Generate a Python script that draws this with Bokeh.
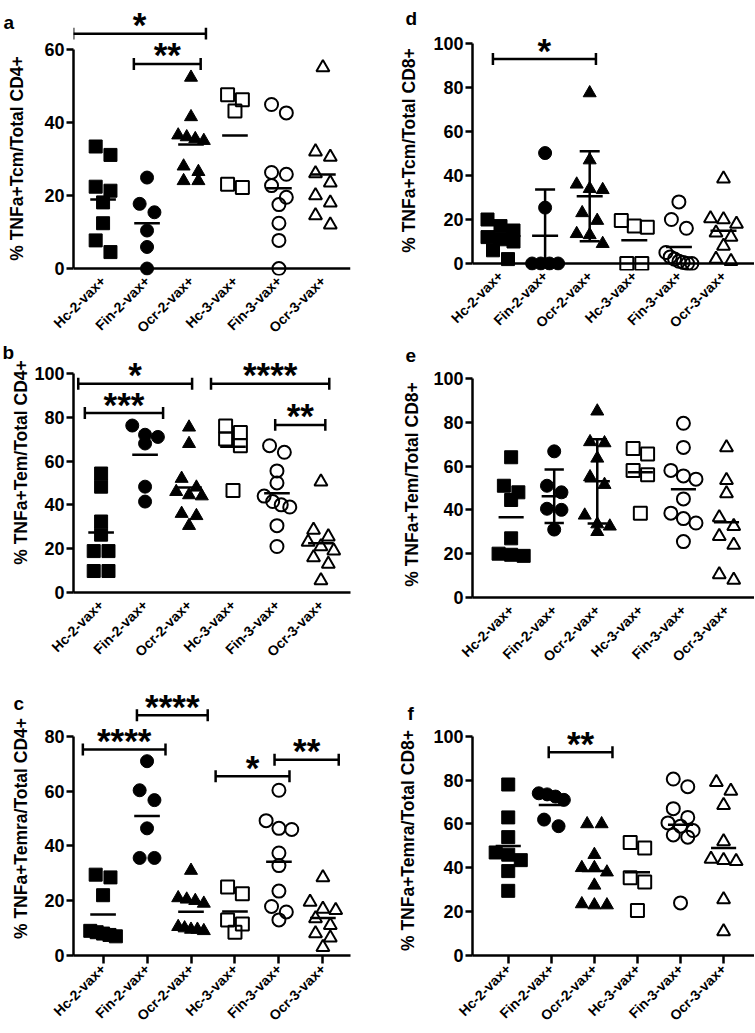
import math
import numpy as np
from bokeh.plotting import figure
from bokeh.layouts import column, row
from bokeh.models import FixedTicker, Range1d
from bokeh.core.properties import value
from bokeh.embed import file_html
from bokeh.resources import INLINE

# ---------------- data ----------------
groups = ["Hc-2-vax+", "Fin-2-vax+", "Ocr-2-vax+", "Hc-3-vax+", "Fin-3-vax+", "Ocr-3-vax+"]

# a: % TNFa+Tcm/Total CD4+
a_hc2 = [33.4, 31.1, 22.4, 21.3, 18.1, 12.4, 7.7, 4.5]
a_fin2 = [24.9, 17.7, 15.4, 10.4, 5.9, 0.0]
a_ocr2 = [52.3, 41.5, 36.5, 36.0, 35.5, 35.0, 28.0, 26.5, 24.0, 24.0]
a_hc3 = [47.6, 46.2, 43.1, 23.1, 22.2]
a_fin3 = [44.9, 42.6, 26.3, 25.8, 22.7, 19.5, 17.5, 12.4, 7.7, 0.0]
a_ocr3 = [55.0, 32.0, 30.5, 26.0, 23.5, 20.0, 18.0, 14.5, 12.0]

# b: % TNFa+Tem/Total CD4+
b_hc2 = [54.3, 48.3, 32.4, 26.4, 18.9, 18.9, 9.8, 9.8]
b_fin2 = [76.2, 72.0, 71.0, 68.0, 48.3, 41.5]
b_ocr2 = [75.4, 67.9, 52.0, 48.0, 46.0, 44.5, 44.0, 36.0, 35.0, 30.5]
b_hc3 = [76.0, 73.0, 70.0, 67.0, 46.5]
b_fin3 = [67.0, 64.0, 55.5, 50.0, 44.0, 41.5, 40.0, 39.0, 30.5, 21.0]
b_ocr3 = [50.5, 28.5, 25.5, 23.0, 21.0, 19.0, 16.0, 13.0, 5.5]

# c: % TNFa+Temra/Total CD4+
c_hc2 = [29.5, 28.5, 22.0, 9.0, 8.5, 8.0, 7.5, 7.0]
c_fin2 = [70.9, 60.3, 56.7, 46.4, 35.6, 35.6]
c_ocr2 = [31.0, 21.0, 20.5, 20.0, 19.0, 10.5, 10.0, 9.5, 9.5, 9.0]
c_hc3 = [25.0, 22.5, 13.0, 11.5, 8.5]
c_fin3 = [60.3, 49.2, 46.4, 46.0, 37.4, 32.8, 23.5, 17.9, 15.9, 13.0]
c_ocr3 = [28.5, 19.5, 17.0, 16.5, 13.5, 11.0, 8.0, 6.5, 3.0]

# d: % TNFa+Tcm/Total CD8+
d_hc2 = [20.0, 17.0, 15.0, 12.0, 11.0, 10.0, 6.0, 2.0]
d_fin2 = [50.2, 25.4, 0.0, 0.0, 0.0, 0.0]
d_ocr2 = [77.5, 47.0, 36.0, 34.0, 33.5, 23.0, 19.5, 13.5, 13.0, 9.0]
d_hc3 = [19.5, 17.0, 16.5, 0.0, 0.0]
d_fin3 = [28.0, 20.0, 16.0, 5.0, 3.0, 2.0, 1.0, 0.5, 0.0, 0.0]
d_ocr3 = [38.5, 20.5, 20.0, 18.0, 14.0, 12.0, 8.0, 2.0, 1.0]

# e: % TNFa+Tem/Total CD8+
e_hc2 = [64.0, 51.0, 48.0, 44.5, 27.0, 20.0, 19.5, 19.0]
e_fin2 = [66.7, 51.0, 48.0, 40.5, 40.0, 31.0]
e_ocr2 = [85.0, 71.0, 70.5, 63.5, 55.0, 51.5, 37.5, 33.5, 32.5, 30.0]
e_hc3 = [68.0, 65.5, 58.0, 56.0, 38.5]
e_fin3 = [79.5, 68.5, 58.0, 55.5, 54.0, 45.0, 38.5, 36.0, 34.0, 25.5]
e_ocr3 = [68.5, 53.5, 47.5, 36.5, 32.5, 28.0, 24.0, 10.5, 8.0]

# f: % TNFa+Temra/Total CD8+
f_hc2 = [78.0, 63.0, 54.0, 47.0, 46.0, 43.5, 38.5, 29.5]
f_fin2 = [74.0, 73.5, 72.5, 71.0, 62.0, 59.0]
f_ocr2 = [60.0, 60.0, 46.0, 40.0, 40.0, 38.0, 32.0, 23.5, 23.0, 23.0]
f_hc3 = [51.5, 49.0, 35.5, 33.5, 20.5]
f_fin3 = [80.5, 77.0, 67.0, 63.0, 60.5, 59.0, 57.0, 55.0, 54.0, 24.0]
f_ocr3 = [79.0, 75.0, 68.5, 52.0, 44.0, 43.5, 43.0, 25.5, 11.0]

# significance brackets: (from group position, to group position, height, stars)
sig_a = [(-0.68, 2.34, 64.3, "*"), (0.70, 2.22, 56.0, "**")]
sig_b = [(-0.52, 2.07, 95.3, "*"), (-0.37, 1.41, 81.9, "***"),
         (2.50, 5.19, 95.3, "****"), (3.96, 5.10, 76.5, "**")]
sig_c = [(-0.46, 1.42, 75.2, "****"), (0.77, 2.38, 87.7, "****"),
         (2.56, 4.24, 65.4, "*"), (3.90, 5.36, 71.4, "**")]
sig_d = [(-0.17, 2.14, 92.9, "*")]
sig_e = []
sig_f = [(0.94, 2.42, 92.7, "**")]

ylabels = {"a": "% TNFa+Tcm/Total CD4+", "b": "% TNFa+Tem/Total CD4+", "c": "% TNFa+Temra/Total CD4+",
           "d": "% TNFa+Tcm/Total CD8+", "e": "% TNFa+Tem/Total CD8+", "f": "% TNFa+Temra/Total CD8+"}

# ---------------- styling ----------------
FONT = "Liberation Sans"
SP = 44.6          # px between categories
MARKERS = [("square", True), ("circle", True), ("triangle", True),
           ("square", False), ("circle", False), ("triangle", False)]


def swarm(vals, ppu, row_px=12.0, step=15.0, max_span=26.0):
    order = sorted(range(len(vals)), key=lambda i: -vals[i])
    offs = [0.0] * len(vals)
    rows, cur = [], []
    for i in order:
        if cur and (vals[cur[0]] - vals[i]) * ppu >= row_px:
            rows.append(cur)
            cur = []
        cur.append(i)
    if cur:
        rows.append(cur)
    for r in rows:
        n = len(r)
        s = step if n < 2 else min(step, max_span / (n - 1))
        for k, i in enumerate(r):
            offs[i] = (k - (n - 1) / 2.0) * s
    return offs


def panel(series, ytop, sig, errbar, xticks, g):
    ppu = 220.0 / ytop
    frame_bottom = g["y0"] + g["ext"]
    x_start = (g["fl"] - g["cat0"]) / SP
    x_end = (g["fr"] - g["cat0"]) / SP
    y_end = (g["y0"] - g["ft"]) / ppu
    y_start = -(frame_bottom - g["y0"]) / ppu
    p = figure(width=g["W"], height=g["H"], x_range=(x_start, x_end), y_range=(y_start, y_end),
               output_backend="svg", toolbar_location=None,
               min_border_left=g["fl"] - g["figl"], min_border_right=g["figl"] + g["W"] - g["fr"],
               min_border_top=g["ft"] - g["figt"], min_border_bottom=g["figt"] + g["H"] - frame_bottom)
    p.outline_line_color = None
    p.grid.visible = False
    p.background_fill_color = "white"
    p.border_fill_color = "white"

    ya = p.yaxis[0]
    ya.ticker = FixedTicker(ticks=list(range(0, ytop + 1, 20)))
    ya.bounds = (0, ytop)
    ya.major_label_text_font = FONT
    ya.major_label_text_font_size = "18px"
    ya.major_label_text_font_style = "bold"
    ya.major_label_text_color = "black"
    ya.major_label_standoff = 2
    ya.major_tick_out = 7
    ya.major_tick_in = 0
    ya.minor_tick_line_color = None
    ya.axis_line_width = 2.5
    ya.major_tick_line_width = 2.5

    xa = p.xaxis[0]
    xa.ticker = FixedTicker(ticks=list(range(len(groups))))
    xa.major_label_overrides = {i: t for i, t in enumerate(groups)}
    xa.major_label_orientation = math.pi / 4
    xa.major_label_text_font = FONT
    xa.major_label_text_font_size = "14px"
    xa.major_label_text_font_style = "bold"
    xa.major_label_text_color = "black"
    xa.major_label_standoff = g["xs"]
    xa.minor_tick_line_color = None
    xa.axis_line_width = 2.5
    xa.major_tick_line_width = 2.5
    xa.major_tick_in = 0
    if xticks:
        xa.major_tick_out = 8
    else:
        xa.major_tick_out = 0
        xa.major_tick_line_color = None
    if g["ext"] > 0:
        # frame reaches a little below zero so that points at 0 stay whole; the zero line is drawn here
        xa.axis_line_color = None
        p.segment([x_start], [0], [x_end], [0], line_color="black", line_width=2.5)

    hw = 13.0 / SP
    cw = 10.0 / SP
    for gi, vals in enumerate(series):
        offs = swarm(vals, ppu)
        xs = [gi + o / SP for o in offs]
        mk, filled = MARKERS[gi]
        if filled:
            p.scatter(xs, vals, marker=mk, size=13, fill_color="black", line_color="black", line_width=1)
        else:
            p.scatter(xs, vals, marker=mk, size=13, fill_color=None, line_color="black", line_width=2)
        m = float(np.mean(vals))
        p.segment([gi - hw], [m], [gi + hw], [m], line_color="black", line_width=2.5)
        if gi in errbar:
            sd = float(np.std(vals, ddof=1))
            top = m + sd
            bot = max(m - sd, 0.0)
            p.segment([gi], [bot], [gi], [top], line_color="black", line_width=2.5)
            p.segment([gi - cw], [top], [gi + cw], [top], line_color="black", line_width=2.5)
            if m - sd > 0:
                p.segment([gi - cw], [bot], [gi + cw], [bot], line_color="black", line_width=2.5)

    cap = 6.0 / ppu
    for x0, x1, y, lab in sig:
        p.segment([x0], [y], [x1], [y], line_color="black", line_width=2.5)
        p.segment([x0, x1], [y - cap, y - cap], [x0, x1], [y + cap, y + cap], line_color="black", line_width=2.5)
        p.text(x=[(x0 + x1) / 2.0], y=[y], text=[lab], text_align="center", text_baseline="alphabetic",
               y_offset=-9, text_font=value(FONT), text_font_size="35px", text_font_style="bold",
               text_color="black")
    return p


PAGE_H = 1032


def gutter(x0, x1, letters, titles):
    # narrow strip left of each column carrying the panel letters and the y-axis titles
    g = figure(width=x1 - x0, height=PAGE_H, x_range=Range1d(x0, x1), y_range=Range1d(PAGE_H, 0),
               x_axis_type=None, y_axis_type=None, output_backend="svg", toolbar_location=None,
               min_border=0, min_border_left=0, min_border_right=0, min_border_top=0, min_border_bottom=0)
    g.outline_line_color = None
    g.grid.visible = False
    g.background_fill_color = "white"
    g.border_fill_color = "white"
    for (lx, ly, t) in letters:
        g.text(x=[lx], y=[ly], text=[t], text_align="left", text_baseline="alphabetic",
               text_font=value(FONT), text_font_size="19px", text_font_style="bold", text_color="black")
    for (tx, ty, t) in titles:
        g.text(x=[tx], y=[ty], text=[t], angle=math.pi / 2, text_align="center", text_baseline="middle",
               text_font=value(FONT), text_font_size="17.5px", text_font_style="bold", text_color="black")
    return g


LC = dict(figl=31, W=345)
RC = dict(figl=423, W=331, fr=754)

pa = panel([a_hc2, a_fin2, a_ocr2, a_hc3, a_fin3, a_ocr3], 60, sig_a, [], False,
           dict(LC, fl=69, fr=350, cat0=99, figt=0, H=344, ft=4, y0=269, ext=7, xs=3))
pb = panel([b_hc2, b_fin2, b_ocr2, b_hc3, b_fin3, b_ocr3], 100, sig_b, [], False,
           dict(LC, fl=72, fr=353, cat0=100, figt=344, H=324, ft=346, y0=593, ext=0, xs=10))
pc = panel([c_hc2, c_fin2, c_ocr2, c_hc3, c_fin3, c_ocr3], 80, sig_c, [], True,
           dict(LC, fl=72, fr=353, cat0=102, figt=668, H=364, ft=672, y0=956, ext=0, xs=3))
pd_ = panel([d_hc2, d_fin2, d_ocr2, d_hc3, d_fin3, d_ocr3], 100, sig_d, [1, 2], False,
            dict(RC, fl=472, cat0=500, figt=0, H=340, ft=4, y0=263, ext=7, xs=3))
pe = panel([e_hc2, e_fin2, e_ocr2, e_hc3, e_fin3, e_ocr3], 100, sig_e, [1, 2], False,
           dict(RC, fl=462, cat0=502, figt=340, H=333, ft=344, y0=598, ext=0, xs=10))
pf = panel([f_hc2, f_fin2, f_ocr2, f_hc3, f_fin3, f_ocr3], 100, sig_f, [], True,
           dict(RC, fl=462, cat0=499, figt=673, H=359, ft=677, y0=956, ext=0, xs=3))

gl = gutter(0, 31, [(3, 22, "a"), (2, 352, "b"), (13, 703, "c")],
            [(16, 158, ylabels["a"]), (20, 462, ylabels["b"]), (20, 828, ylabels["c"])])
gr = gutter(376, 423, [(405, 18, "d"), (405, 355, "e"), (407, 713, "f")],
            [(408, 150, ylabels["d"]), (411, 484, ylabels["e"]), (407, 840, ylabels["f"])])

layout = row(gl, column(pa, pb, pc), gr, column(pd_, pe, pf))
open("out.html", "w").write(file_html(layout, INLINE))
